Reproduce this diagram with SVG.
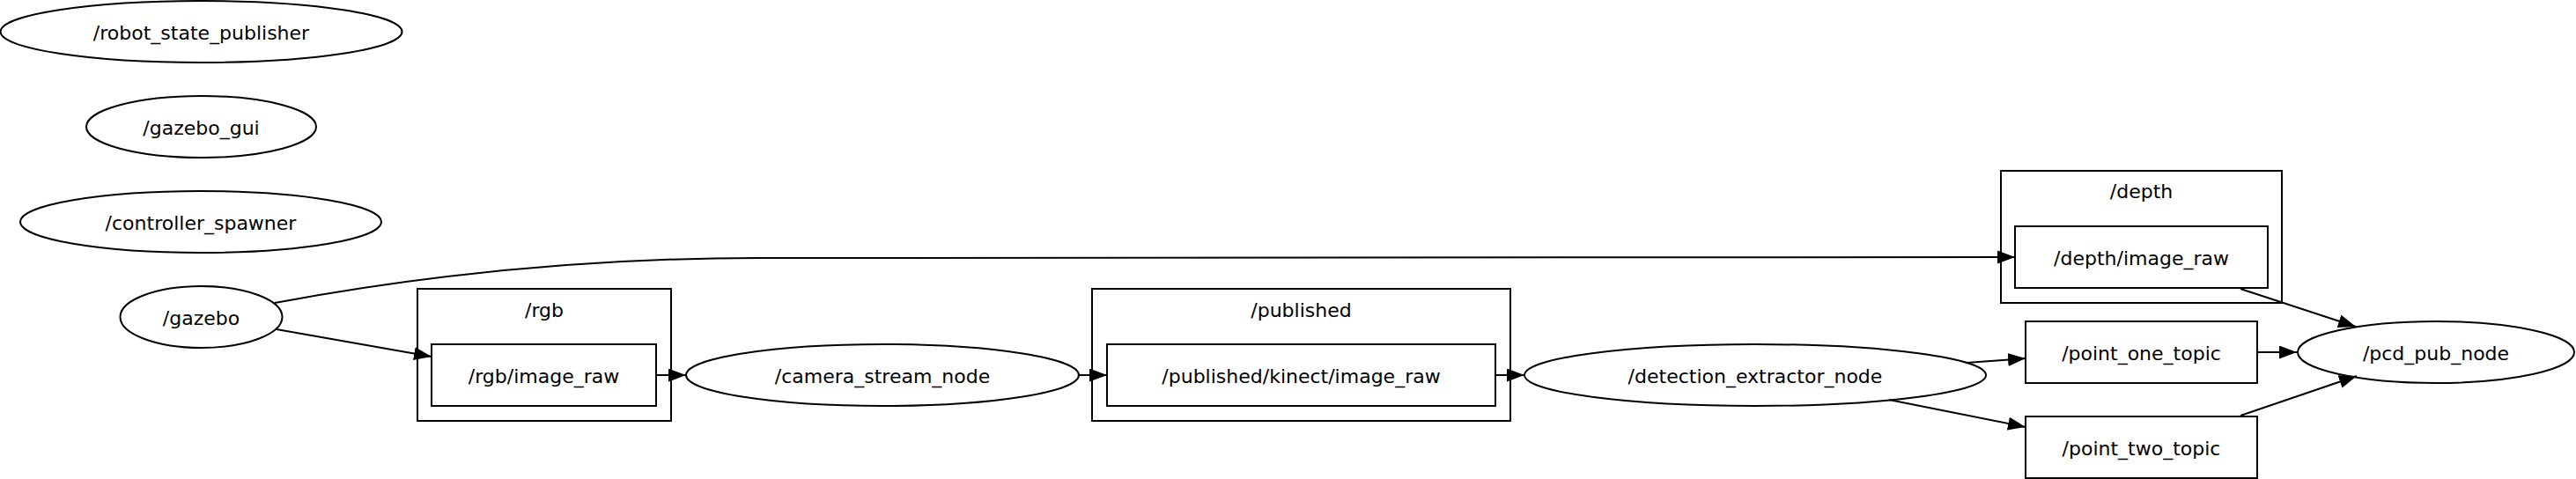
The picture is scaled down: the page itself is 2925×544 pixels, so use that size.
<svg xmlns="http://www.w3.org/2000/svg" width="2925" height="544" viewBox="0 0 2925 544">
<style>
.n{fill:none;stroke:#000;stroke-width:2}
.t{font-family:"DejaVu Sans",sans-serif;font-size:22px;text-anchor:middle;fill:#000}
.e{fill:none;stroke:#000;stroke-width:2}
</style>
<defs>
<marker id="arr" markerWidth="22" markerHeight="16" refX="20" refY="7.5" orient="auto" markerUnits="userSpaceOnUse">
<path d="M0,0 L20,7.5 L0,15 z" fill="#000"/>
</marker>
</defs>
<rect width="2925" height="544" fill="#fff"/>
<g id="robot_state_publisher"><ellipse class="n" cx="228.5" cy="36" rx="228" ry="35"/><text class="t" x="228.5" y="44.5">/robot_state_publisher</text></g>
<g id="gazebo_gui"><ellipse class="n" cx="228.5" cy="144" rx="130.5" ry="35"/><text class="t" x="228.5" y="152.5">/gazebo_gui</text></g>
<g id="controller_spawner"><ellipse class="n" cx="228" cy="252" rx="205" ry="35"/><text class="t" x="228" y="260.5">/controller_spawner</text></g>
<g id="gazebo"><ellipse class="n" cx="228.5" cy="360" rx="92" ry="35"/><text class="t" x="228.5" y="368.5">/gazebo</text></g>
<g id="cluster_rgb"><rect class="n" x="474" y="328" width="288" height="150"/><text class="t" x="618" y="360">/rgb</text></g>
<g id="rgb_image_raw"><rect class="n" x="490" y="391" width="255" height="70"/><text class="t" x="617.5" y="434.5">/rgb/image_raw</text></g>
<g id="camera_stream_node"><ellipse class="n" cx="1002" cy="426" rx="223" ry="35"/><text class="t" x="1002" y="434.5">/camera_stream_node</text></g>
<g id="cluster_published"><rect class="n" x="1240" y="328" width="475" height="150"/><text class="t" x="1477.5" y="360">/published</text></g>
<g id="published_kinect_image_raw"><rect class="n" x="1257" y="391" width="441" height="70"/><text class="t" x="1477.5" y="434.5">/published/kinect/image_raw</text></g>
<g id="detection_extractor_node"><ellipse class="n" cx="1993" cy="426" rx="262" ry="35"/><text class="t" x="1993" y="434.5">/detection_extractor_node</text></g>
<g id="cluster_depth"><rect class="n" x="2272" y="194" width="319" height="150"/><text class="t" x="2431.5" y="225">/depth</text></g>
<g id="depth_image_raw"><rect class="n" x="2288" y="257" width="287" height="70"/><text class="t" x="2431.5" y="300.5">/depth/image_raw</text></g>
<g id="point_one_topic"><rect class="n" x="2300" y="365" width="263" height="70"/><text class="t" x="2431.5" y="408.5">/point_one_topic</text></g>
<g id="point_two_topic"><rect class="n" x="2300" y="473" width="263" height="70"/><text class="t" x="2431.5" y="516.5">/point_two_topic</text></g>
<g id="pcd_pub_node"><ellipse class="n" cx="2766" cy="400" rx="157" ry="35"/><text class="t" x="2766" y="408.5">/pcd_pub_node</text></g>
<g id="edges">
<path class="e" marker-end="url(#arr)" d="M312,344 C430,322 620,293 860,293 L2288,292"/>
<path class="e" marker-end="url(#arr)" d="M314,374 L490,405"/>
<path class="e" marker-end="url(#arr)" d="M745,426 L779,426"/>
<path class="e" marker-end="url(#arr)" d="M1225,426 L1257,426"/>
<path class="e" marker-end="url(#arr)" d="M1698,426 L1731,426"/>
<path class="e" marker-end="url(#arr)" d="M2233,412 L2300,407"/>
<path class="e" marker-end="url(#arr)" d="M2145,454 L2300,485"/>
<path class="e" marker-end="url(#arr)" d="M2563,400 L2608,400"/>
<path class="e" marker-end="url(#arr)" d="M2544,472 L2676,427"/>
<path class="e" marker-end="url(#arr)" d="M2544,328 L2675,371"/>
</g>
</svg>
